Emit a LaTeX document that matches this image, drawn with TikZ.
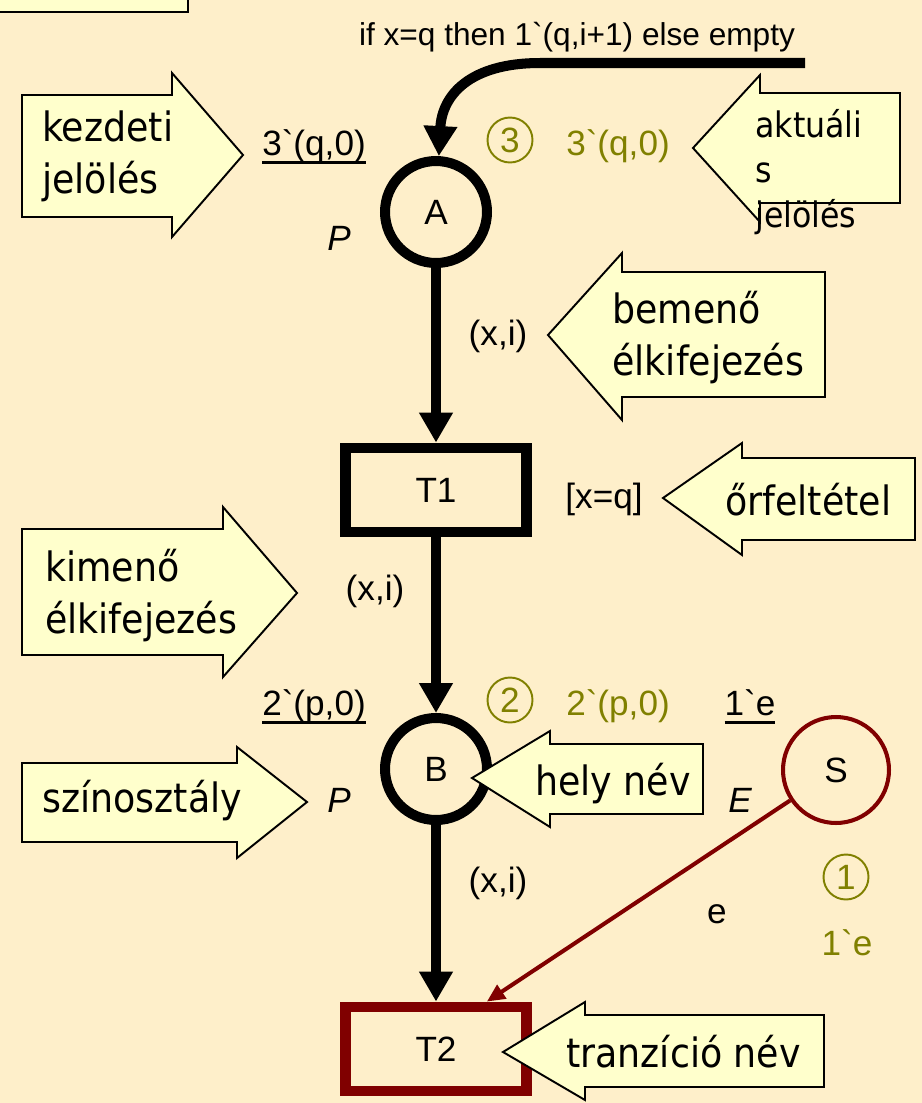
\documentclass[tikz,border=0pt]{standalone}
\usepackage{fontspec}
\newfontfamily\labfont{Liberation Sans}
\newfontfamily\callfont{DejaVu Sans Condensed}
\usetikzlibrary{arrows.meta,positioning}

\definecolor{bgcream}{RGB}{254,239,202}
\definecolor{callfill}{RGB}{255,255,204}
\definecolor{olivetext}{RGB}{128,128,0}
\definecolor{darkred}{RGB}{128,0,0}

\newcommand\ulab[1]{\leavevmode\setbox0\hbox{#1}\rlap{\rule[-5.1pt]{\wd0}{1.5pt}}\box0}

\tikzset{
  lbl/.style={inner sep=0pt, font=\labfont\fontsize{20}{24}\selectfont},
  place/.style={circle, draw, line width=5.7pt, minimum size=2.04cm, inner sep=0pt, lbl},
  trans/.style={rectangle, draw, line width=6.2pt, minimum width=3.62cm, minimum height=1.68cm, inner sep=0pt, lbl},
  arc/.style={line width=5.7pt, -{Triangle[length=0.6cm,width=0.64cm]}},
  count/.style={circle, draw=olivetext, text=olivetext, line width=1.1pt, minimum size=0.9cm, inner sep=0pt, lbl},
  marking/.style={lbl, text=olivetext, anchor=base},
  callout/.style={draw, fill=callfill, line width=1.1pt, line join=miter},
  calltext/.style={inner sep=0pt, align=left, anchor=base west, font=\callfont\fontsize{23}{29.5}\selectfont}
}

\begin{document}
\begin{tikzpicture}[x=0.02cm, y=-0.02cm]
\useasboundingbox (0,0) rectangle (922,1103);
\fill[bgcream] (0,0) rectangle (922,1103);
\clip (0,0) rectangle (922,1103);
\draw[callout] (-10,-10) rectangle (188,12);

% net
\node[place] (A) at (436,212) {A};
\node[trans] (T1) at (436,490) {T1};
\node[place] (B) at (436,769) {B};
\node[trans, draw=darkred] (T2) at (436,1049) {T2};
\node[place, draw=darkred, line width=2.3pt, minimum size=2.12cm] (S) at (836,770) {S};

\coordinate (feed) at (805,63);
\draw[arc] (feed) -- (540,63) .. controls (470,63) and (442,95) .. (A);
\draw[arc] (A) -- (T1);
\draw[arc] (T1) -- (B);
\draw[arc] (B) -- (T2);
\draw[darkred, line width=2.3pt, -{Triangle[length=0.36cm,width=0.32cm]}] (S) -- (T2.43);

% inscriptions
\node[lbl, anchor=base, font=\labfont\fontsize{18}{22}\selectfont] (expr) at (577,45) {if x=q then 1`(q,i+1) else empty};
\node[lbl, anchor=base] (initA) at (314,155) {\ulab{3`(q,0)}};
\node[lbl, anchor=base] (colA) at (339,250) {\itshape P};
\node[count] (cntA) at (510,140) {3};
\node[marking] (markA) at (618,155) {3`(q,0)};
\node[lbl, anchor=base] (inArc) at (498,345) {(x,i)};
\node[lbl, anchor=base] (guard) at (604,508) {[x=q]};
\node[lbl, anchor=base] (outArc) at (375,600) {(x,i)};
\node[lbl, anchor=base] (initB) at (314,715) {\ulab{2`(p,0)}};
\node[count] (cntB) at (510,700) {2};
\node[marking] (markB) at (618,715) {2`(p,0)};
\node[lbl, anchor=base] (initS) at (750,715) {\ulab{1`e}};
\node[lbl, anchor=base] (colB) at (339,812) {\itshape P};
\node[lbl, anchor=base] (colS) at (740,812) {\itshape E};
\node[lbl, anchor=base] (arcB) at (498,892) {(x,i)};
\node[lbl, anchor=base] (arcS) at (717,923) {e};
\node[count] (cntS) at (846,877) {1};
\node[marking] (markS) at (847,955) {1`e};

% callouts
\draw[callout] (22,95) -- (172,95) -- (172,73) -- (243,155) -- (172,237) -- (172,217) -- (22,217) -- cycle;
\node[calltext] (kezd) at (42,193) {kezdeti\\jelölés};
\draw[callout] (900,93) -- (760,93) -- (760,75) -- (693,148) -- (760,222) -- (760,203) -- (900,203) -- cycle;
\node[calltext, font=\callfont\fontsize{20}{25.5}\selectfont] (akt) at (755,227) {aktuáli\\s\\jelölés};
\draw[callout] (825,272) -- (622,272) -- (622,253) -- (548,335) -- (622,420) -- (622,397) -- (825,397) -- cycle;
\node[calltext] (bem) at (612,375) {bemenő\\élkifejezés};
\draw[callout] (915,458) -- (742,458) -- (742,443) -- (663,498) -- (742,555) -- (742,540) -- (915,540) -- cycle;
\node[calltext] (orf) at (725,515) {őrfeltétel};
\draw[callout] (22,529) -- (223,529) -- (223,507) -- (297,593) -- (223,677) -- (223,655) -- (22,655) -- cycle;
\node[calltext] (kim) at (45,633) {kimenő\\élkifejezés};
\draw[callout] (22,763) -- (237,763) -- (237,747) -- (307,802) -- (237,858) -- (237,842) -- (22,842) -- cycle;
\node[calltext] (szin) at (42,812) {színosztály};
\draw[callout] (703,744) -- (550,744) -- (550,731) -- (472,778) -- (550,827) -- (550,814) -- (703,814) -- cycle;
\node[calltext] (hely) at (535,795) {hely név};
\draw[callout] (824,1015) -- (585,1015) -- (585,1002) -- (503,1052) -- (585,1100) -- (585,1087) -- (824,1087) -- cycle;
\node[calltext] (tranz) at (566,1067) {tranzíció név};
\end{tikzpicture}
\end{document}
